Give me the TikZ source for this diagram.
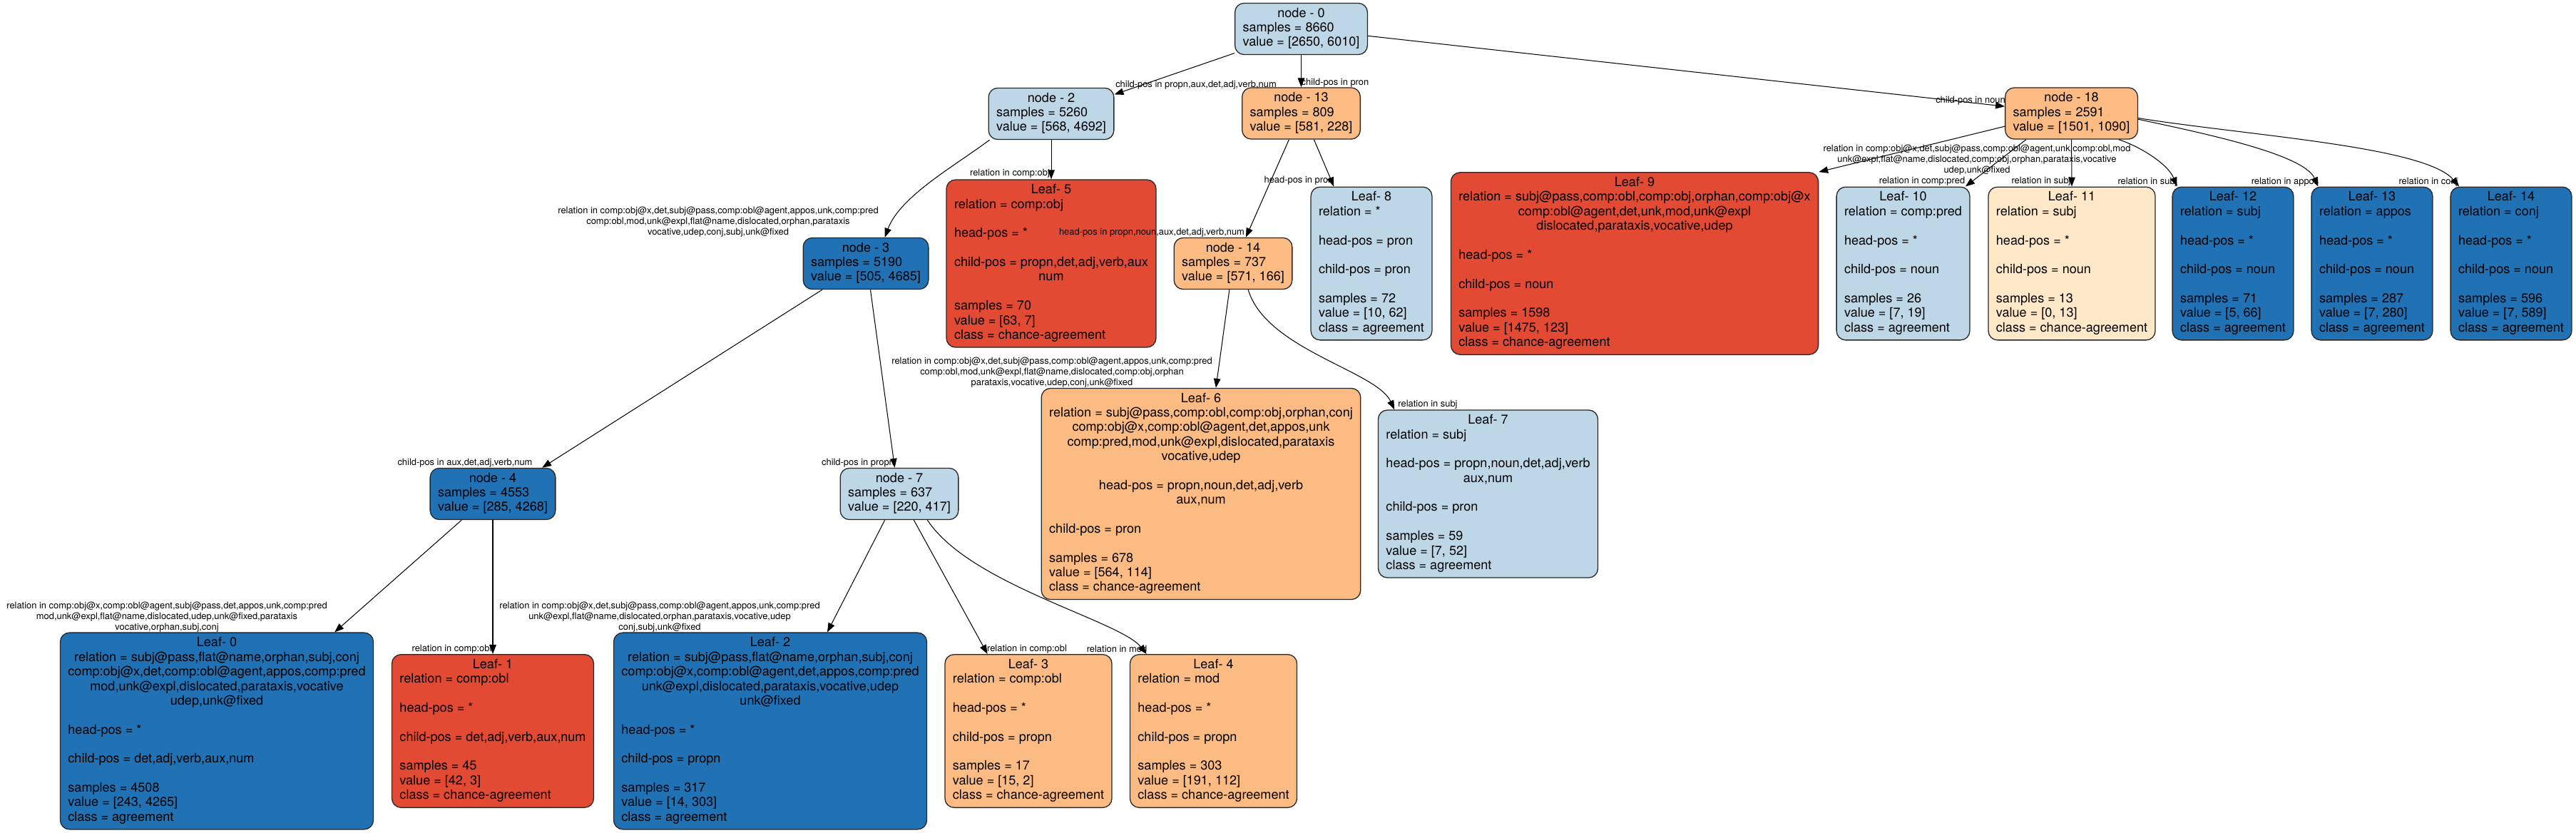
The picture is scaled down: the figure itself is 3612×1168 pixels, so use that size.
\documentclass[tikz,border=0pt]{standalone}
\usepackage{fontspec}
\setmainfont{TeX Gyre Heros}
\usetikzlibrary{arrows.meta}
\definecolor{agrlight}{RGB}{189,215,231}
\definecolor{agrdark}{RGB}{33,113,181}
\definecolor{chnmid}{RGB}{253,187,132}
\definecolor{chnred}{RGB}{227,74,51}
\definecolor{chnpale}{RGB}{254,232,200}
\newcommand{\nodetab}[1]{\begin{tabular}{@{}l@{}}#1\end{tabular}}
\newcommand{\ctr}[1]{\multicolumn{1}{@{}c@{}}{#1}}

\begin{document}
\begin{tikzpicture}[
        x=0.775pt, y=-0.775pt,
        tnode/.style={rectangle, draw=black!85, line width=1pt, rounded corners=10pt,
                      inner xsep=8.5pt, inner ysep=4.3pt,
                      font=\fontsize{14}{15.78}\selectfont},
        agr/.style={tnode, fill=agrlight},
        agrB/.style={tnode, fill=agrdark},
        chn/.style={tnode, fill=chnmid},
        chnR/.style={tnode, fill=chnred},
        chnP/.style={tnode, fill=chnpale},
        edgelabel/.style={inner sep=0pt, align=center, font=\fontsize{10}{11.4}\selectfont},
        arrT/.style={-{Triangle[length=10pt, width=7.4pt]}, line width=0.8pt},
    ]
    \useasboundingbox (0,0) rectangle (3612,1168);

    % ---- Split nodes ----
    \node[agr] (N0) at (1824.5,40.5) {\nodetab{\ctr{node - 0}\\ samples = 8660\\ value = [2650, 6010]}};
    \node[agr] (N2) at (1474,159.5) {\nodetab{\ctr{node - 2}\\ samples = 5260\\ value = [568, 4692]}};
    \node[chn] (N13) at (1824.5,159) {\nodetab{\ctr{node - 13}\\ samples = 809\\ value = [581, 228]}};
    \node[chn] (N18) at (2904.5,159) {\nodetab{\ctr{node - 18}\\ samples = 2591\\ value = [1501, 1090]}};
    \node[agrB] (N3) at (1214,369.5) {\nodetab{\ctr{node - 3}\\ samples = 5190\\ value = [505, 4685]}};
    \node[chn] (N14) at (1729,369.5) {\nodetab{\ctr{node - 14}\\ samples = 737\\ value = [571, 166]}};
    \node[agrB] (N4) at (691,692.5) {\nodetab{\ctr{node - 4}\\ samples = 4553\\ value = [285, 4268]}};
    \node[agr] (N7) at (1261,692.5) {\nodetab{\ctr{node - 7}\\ samples = 637\\ value = [220, 417]}};

    % ---- Leaves, second row ----
    \node[chnR] (LF5) at (1474,369.5) {\nodetab{\ctr{Leaf- 5}\\ relation = comp:obj\\ \\ head-pos = *\\ \\
        \ctr{child-pos = propn,det,adj,verb,aux}\\ \ctr{num}\\ \\
        samples = 70\\ value = [63, 7]\\ class = chance-agreement}};
    \node[agr] (LF8) at (1923,369.5) {\nodetab{\ctr{Leaf- 8}\\ relation = *\\ \\ head-pos = pron\\ \\
        child-pos = pron\\ \\ samples = 72\\ value = [10, 62]\\ class = agreement}};
    \node[chnR] (LF9) at (2292,369.5) {\nodetab{\ctr{Leaf- 9}\\
        \ctr{relation = subj@pass,comp:obl,comp:obj,orphan,comp:obj@x}\\
        \ctr{comp:obl@agent,det,unk,mod,unk@expl}\\ \ctr{dislocated,parataxis,vocative,udep}\\ \\
        head-pos = *\\ \\ child-pos = noun\\ \\ samples = 1598\\ value = [1475, 123]\\ class = chance-agreement}};
    \node[agr] (LF10) at (2668.5,369.5) {\nodetab{\ctr{Leaf- 10}\\ relation = comp:pred\\ \\ head-pos = *\\ \\
        child-pos = noun\\ \\ samples = 26\\ value = [7, 19]\\ class = agreement}};
    \node[chnP] (LF11) at (2905,369.5) {\nodetab{\ctr{Leaf- 11}\\ relation = subj\\ \\ head-pos = *\\ \\
        child-pos = noun\\ \\ samples = 13\\ value = [0, 13]\\ class = chance-agreement}};
    \foreach \i/\xc/\rel/\smp/\val in {12/3131/subj/71/{[5, 66]}, 13/3326/appos/287/{[7, 280]}, 14/3521/conj/596/{[7, 589]}} {
        \node[agrB] (LF\i) at (\xc,369.5) {\nodetab{\ctr{Leaf- \i}\\ relation = \rel\\ \\ head-pos = *\\ \\
            child-pos = noun\\ \\ samples = \smp\\ value = \val\\ class = agreement}};
    }

    % ---- Leaves, third row ----
    \node[chn] (LF6) at (1684,692.5) {\nodetab{\ctr{Leaf- 6}\\
        \ctr{relation = subj@pass,comp:obl,comp:obj,orphan,conj}\\
        \ctr{comp:obj@x,comp:obl@agent,det,appos,unk}\\ \ctr{comp:pred,mod,unk@expl,dislocated,parataxis}\\
        \ctr{vocative,udep}\\ \\ \ctr{head-pos = propn,noun,det,adj,verb}\\ \ctr{aux,num}\\ \\
        child-pos = pron\\ \\ samples = 678\\ value = [564, 114]\\ class = chance-agreement}};
    \node[agr] (LF7) at (2086.5,692.5) {\nodetab{\ctr{Leaf- 7}\\ relation = subj\\ \\
        \ctr{head-pos = propn,noun,det,adj,verb}\\ \ctr{aux,num}\\ \\
        child-pos = pron\\ \\ samples = 59\\ value = [7, 52]\\ class = agreement}};

    % ---- Leaves, bottom row ----
    \node[agrB] (LF0) at (304,1025) {\nodetab{\ctr{Leaf- 0}\\
        \ctr{relation = subj@pass,flat@name,orphan,subj,conj}\\
        \ctr{comp:obj@x,det,comp:obl@agent,appos,comp:pred}\\ \ctr{mod,unk@expl,dislocated,parataxis,vocative}\\
        \ctr{udep,unk@fixed}\\ \\ head-pos = *\\ \\ child-pos = det,adj,verb,aux,num\\ \\
        samples = 4508\\ value = [243, 4265]\\ class = agreement}};
    \node[chnR] (LF1) at (691,1025) {\nodetab{\ctr{Leaf- 1}\\ relation = comp:obl\\ \\ head-pos = *\\ \\
        child-pos = det,adj,verb,aux,num\\ \\ samples = 45\\ value = [42, 3]\\ class = chance-agreement}};
    \node[agrB] (LF2) at (1080,1025) {\nodetab{\ctr{Leaf- 2}\\
        \ctr{relation = subj@pass,flat@name,orphan,subj,conj}\\
        \ctr{comp:obj@x,comp:obl@agent,det,appos,comp:pred}\\ \ctr{unk@expl,dislocated,parataxis,vocative,udep}\\
        \ctr{unk@fixed}\\ \\ head-pos = *\\ \\ child-pos = propn\\ \\
        samples = 317\\ value = [14, 303]\\ class = agreement}};
    \node[chn] (LF3) at (1442,1025) {\nodetab{\ctr{Leaf- 3}\\ relation = comp:obl\\ \\ head-pos = *\\ \\
        child-pos = propn\\ \\ samples = 17\\ value = [15, 2]\\ class = chance-agreement}};
    \node[chn] (LF4) at (1701.5,1025) {\nodetab{\ctr{Leaf- 4}\\ relation = mod\\ \\ head-pos = *\\ \\
        child-pos = propn\\ \\ samples = 303\\ value = [191, 112]\\ class = chance-agreement}};

    % ---- Edges ----
    \draw[arrT] (N0.200) -- (N2.17);
    \draw[arrT] (N0.south) -- (N13.north);
    \draw[arrT] (N0.-6) -- (N18.174);
    \draw[arrT] (N2.203) .. controls (1340,232) and (1262,275) .. (N3.54);
    \draw[arrT] (N2.south) -- (LF5.north);
    \draw[arrT] (N13.245) -- (N14.64);
    \draw[arrT] (N13.-64) -- (LF8.116);
    \draw[arrT] (N18.191) -- (LF9.north east);
    \draw[arrT] (N18.210) -- (LF10.51);
    \draw[arrT] (N18.south) -- (LF11.north);
    \draw[arrT] (N18.-29) .. controls (3000,205) and (3040,230) .. (LF12.126);
    \draw[arrT] (N18.-5) .. controls (3080,185) and (3230,215) .. (LF13.125);
    \draw[arrT] (N18.-4) .. controls (3150,190) and (3400,205) .. (LF14.124);
    \draw[arrT] (N3.211) -- (N4.28);
    \draw[arrT] (N3.-80) -- (N7.100);
    \draw[arrT] (N14.262) -- (LF6.82);
    \draw[arrT] (N14.-60) .. controls (1775,490) and (1930,520) .. (LF7.138);
    \draw[arrT] (N4.220) -- (LF0.40);
    \draw[arrT] (N4.south) -- (LF1.north);
    \draw[arrT] (N7.241) -- (LF2.60);
    \draw[arrT] (N7.-61) -- (LF3.118);
    \draw[arrT] (N7.-43) .. controls (1360,820) and (1570,870) .. (LF4.131);

    % ---- Edge labels ----
    \node[edgelabel] (T2) at (1677,119) {child-pos in propn,aux,det,adj,verb,num};
    \node[edgelabel] (T13) at (1872,116) {child-pos in pron};
    \node[edgelabel] (T18) at (2763,141) {child-pos in noun};
    \node[edgelabel] (T3) at (1007,311) {relation in comp:obj@x,det,subj@pass,comp:obl@agent,appos,unk,comp:pred\\
        comp:obl,mod,unk@expl,flat@name,dislocated,orphan,parataxis\\ vocative,udep,conj,subj,unk@fixed};
    \node[edgelabel] (T5) at (1416,243) {relation in comp:obj};
    \node[edgelabel] (T14) at (1615,326) {head-pos in propn,noun,aux,det,adj,verb,num};
    \node[edgelabel] (T8) at (1821,253) {head-pos in pron};
    \node[edgelabel] (T9) at (2772,224) {relation in comp:obj@x,det,subj@pass,comp:obl@agent,unk,comp:obl,mod\\
        unk@expl,flat@name,dislocated,comp:obj,orphan,parataxis,vocative\\ udep,unk@fixed};
    \node[edgelabel] (T10) at (2695,254) {relation in comp:pred};
    \node[edgelabel] (T11) at (2862,254) {relation in subj};
    \node[edgelabel] (T12) at (3011,255) {relation in subj};
    \node[edgelabel] (T13b) at (3204,255) {relation in appos};
    \node[edgelabel] (T14b) at (3405,255) {relation in conj};
    \node[edgelabel] (T4) at (652,649) {child-pos in aux,det,adj,verb,num};
    \node[edgelabel] (T7) at (1203,649) {child-pos in propn};
    \node[edgelabel] (T6) at (1475,522) {relation in comp:obj@x,det,subj@pass,comp:obl@agent,appos,unk,comp:pred\\
        comp:obl,mod,unk@expl,flat@name,dislocated,comp:obj,orphan\\ parataxis,vocative,udep,conj,unk@fixed};
    \node[edgelabel] (T7b) at (2002,567) {relation in subj};
    \node[edgelabel] (T0) at (234,865) {relation in comp:obj@x,comp:obl@agent,subj@pass,det,appos,unk,comp:pred\\
        mod,unk@expl,flat@name,dislocated,udep,unk@fixed,parataxis\\ vocative,orphan,subj,conj};
    \node[edgelabel] (T1) at (633.5,910) {relation in comp:obl};
    \node[edgelabel] (T2b) at (925,865) {relation in comp:obj@x,det,subj@pass,comp:obl@agent,appos,unk,comp:pred\\
        unk@expl,flat@name,dislocated,orphan,parataxis,vocative,udep\\ conj,subj,unk@fixed};
    \node[edgelabel] (T3b) at (1440,910) {relation in comp:obl};
    \node[edgelabel] (T4b) at (1566,910) {relation in mod};

\end{tikzpicture}
\end{document}
